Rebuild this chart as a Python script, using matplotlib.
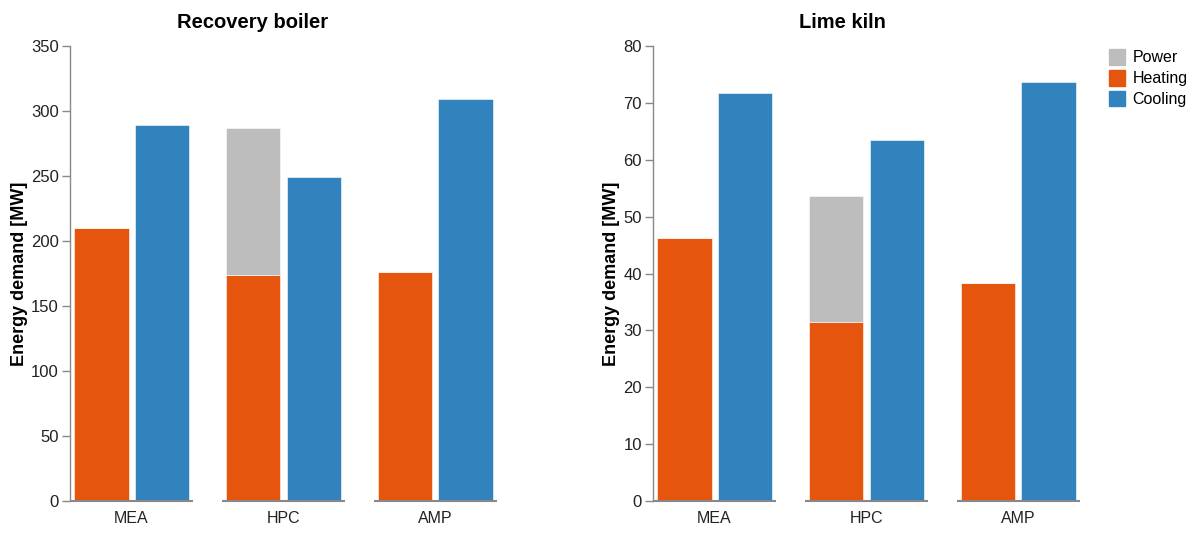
import matplotlib
matplotlib.use("Agg")
import matplotlib.pyplot as plt
from matplotlib.patches import Patch

plt.rcParams['font.family'] = ['Liberation Sans', 'DejaVu Sans']

groups = ["MEA", "HPC", "AMP"]
panels = ["Recovery boiler", "Lime kiln"]

rb_heating = [210, 174, 176]
rb_power = [0, 113, 0]
rb_cooling = [289, 249, 309]

lk_heating = [46.3, 31.5, 38.4]
lk_power = [0, 22.2, 0]
lk_cooling = [71.7, 63.5, 73.6]

rb_yticks = [0, 50, 100, 150, 200, 250, 300, 350]
lk_yticks = [0, 10, 20, 30, 40, 50, 60, 70, 80]

C_HEAT = "#e6550d"
C_COOL = "#3182bd"
C_POW = "#bdbdbd"
AX_C = "#888888"

fig = plt.figure(figsize=(11.97, 5.36), dpi=100)
W, H = 1197, 536
rects = [(70, 46, 497, 501), (653, 46, 1080, 501)]
title_x = [253, 842]
data = [(rb_heating, rb_power, rb_cooling, rb_yticks),
        (lk_heating, lk_power, lk_cooling, lk_yticks)]

half = 0.405
off = 0.2
bw = 0.36
for (x0, y0, x1, y1), title, tx, (heat, pw, cool, yt) in zip(rects, panels, title_x, data):
    ax = fig.add_axes([x0 / W, 1 - y1 / H, (x1 - x0) / W, (y1 - y0) / H])
    xs = list(range(len(groups)))
    ax.bar([x - off for x in xs], heat, width=bw, color=C_HEAT, edgecolor="white", linewidth=0.4)
    ax.bar([x - off for x in xs], pw, width=bw, bottom=heat, color=C_POW, edgecolor="white", linewidth=0.4)
    ax.bar([x + off for x in xs], cool, width=bw, color=C_COOL, edgecolor="white", linewidth=0.4)
    ax.set_xlim(-half, len(groups) - 1 + half)
    ax.set_ylim(yt[0], yt[-1])
    ax.set_yticks(yt)
    ax.set_xticks(xs)
    ax.set_xticklabels(groups, fontsize=11.5)
    ax.tick_params(axis='x', length=0, pad=7, colors="#222222")
    ax.tick_params(axis='y', length=6, width=1, color=AX_C, labelsize=12, labelcolor="#222222", pad=2)
    for s in ["top", "right", "bottom"]:
        ax.spines[s].set_visible(False)
    ax.spines["left"].set_color(AX_C)
    ax.spines["left"].set_linewidth(1)
    for x in xs:
        ax.plot([x - half, x + half], [0, 0], color=AX_C, lw=1.5, clip_on=False, solid_capstyle='butt')
    ax.set_ylabel("Energy demand [MW]", fontsize=13, fontweight="bold", labelpad=2)
    fig.text(tx / W, 1 - 22 / H, title, fontsize=14.5, fontweight="bold", ha="center", va="center")

handles = [Patch(color=C_POW, label="Power"), Patch(color=C_HEAT, label="Heating"),
           Patch(color=C_COOL, label="Cooling")]
fig.legend(handles=handles, loc="upper left", bbox_to_anchor=(1103 / W, 1 - 43 / H),
           frameon=False, fontsize=11.5, handlelength=1.0, handleheight=1.1,
           handletextpad=0.45, labelspacing=0.3, borderaxespad=0)

fig.savefig("out.png", dpi=100)
